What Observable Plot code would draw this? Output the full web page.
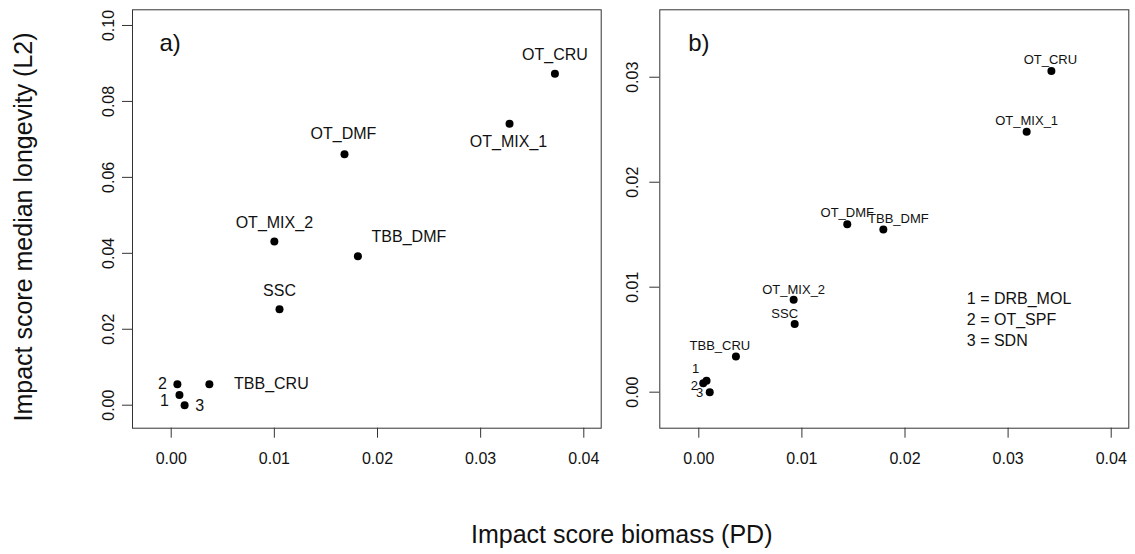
<!DOCTYPE html>
<html><head><meta charset="utf-8">
<script src="https://cdn.jsdelivr.net/npm/d3@7"></script>
<script src="https://cdn.jsdelivr.net/npm/@observablehq/plot@0.6"></script>
<style>
body{margin:0;background:#fff;}
#fig{position:relative;width:1135px;height:554px;font-family:"Liberation Sans",Arial,sans-serif;color:#111;background:#fff;overflow:hidden;}
#xlab{position:absolute;left:471px;top:522px;font-size:25px;line-height:25px;white-space:nowrap;color:#111;}
</style></head><body><div id="fig"><div id="xlab"></div></div>
<script>
// ---- data ----
const namesA = ["OT_CRU","OT_MIX_1","OT_DMF","OT_MIX_2","TBB_DMF","SSC","TBB_CRU","2","1","3"];
const pdA    = [0.0372,0.0328,0.0168,0.0100,0.0181,0.0105,0.0037,0.0006,0.0008,0.0013];
const l2A    = [0.0873,0.0741,0.0661,0.0431,0.0392,0.0253,0.0055,0.0055,0.0027,0.0000];

const namesB = ["OT_CRU","OT_MIX_1","OT_DMF","TBB_DMF","OT_MIX_2","SSC","TBB_CRU","1","2","3"];
const pdB    = [0.0342,0.0318,0.0144,0.0179,0.0092,0.0093,0.0036,0.00075,0.00043,0.00106];
const l2B    = [0.0306,0.0248,0.0160,0.0155,0.0088,0.0065,0.0034,0.0011,0.00084,0.0000];

const xTicks  = [0,0.01,0.02,0.03,0.04];
const yTicksA = [0,0.02,0.04,0.06,0.08,0.10];
const yTicksB = [0,0.01,0.02,0.03];
const legendLines = ["1 = DRB_MOL","2 = OT_SPF","3 = SDN"];
const panelLetters = ["a)","b)"];
const xTitle = "Impact score biomass (PD)";
const yTitle = "Impact score median longevity (L2)";

// ---- layout (label offsets in px relative to each point) ----
const offA = {OT_CRU:[0,-19],OT_MIX_1:[-1,18],OT_DMF:[-1,-20],OT_MIX_2:[0,-19],TBB_DMF:[51,-19],
  SSC:[0,-18],TBB_CRU:[62,0],"2":[-15,0],"1":[-15,6],"3":[15,1]};
const offB = {OT_CRU:[-1,-11],OT_MIX_1:[0,-11],OT_DMF:[0,-11],TBB_DMF:[15,-11],OT_MIX_2:[0,-10],
  SSC:[-10,-10],TBB_CRU:[-16,-11],"1":[-11,-12],"2":[-9,2],"3":[-10,1]};

const ink = "#111";
const boxInk = "#333";
const font = "Liberation Sans, Arial, sans-serif";

function panel(names, xs, ys, off, opts) {
  const data = names.map((n,i)=>({name:n, x:xs[i], y:ys[i]}));
  const labelMarks = data.map(d => Plot.text([d], {x:"x", y:"y", text:"name",
    dx: off[d.name][0], dy: off[d.name][1], fontSize: opts.labelSize, fill: ink}));
  const extra = opts.extra || [];
  return Plot.plot({
    width: opts.width, height: 554,
    marginLeft: opts.ml, marginRight: opts.mr, marginTop: 9.3, marginBottom: 126.3,
    x: {domain: opts.xd},
    y: {domain: opts.yd},
    style: {fontFamily: font, fontSize: "16px", color: ink, background: "transparent", overflow: "visible",
      position: "absolute", top: "0px", left: opts.left + "px"},
    marks: [
      Plot.frame({stroke: boxInk, strokeWidth: 1}),
      Plot.axisX({ticks: xTicks, tickFormat: d3.format(".2f"), tickSize: 10, tickPadding: 14,
        label: null, stroke: boxInk, fontSize: 16}),
      Plot.axisY({ticks: opts.yTicks, tickFormat: d3.format(".2f"), tickSize: 10, tickPadding: opts.yPad,
        tickRotate: -90, label: null, stroke: boxInk, fontSize: 16}),
      Plot.dot(data, {x:"x", y:"y", r: 4, fill: "#000", stroke: "none"}),
      ...labelMarks,
      Plot.text([opts.letter], {frameAnchor: "top-left", dx: opts.letterDx, dy: 24, fontSize: 24,
        textAnchor: "start", fill: ink}),
      ...extra
    ]
  });
}

const fig = document.getElementById("fig");

const svgA = panel(namesA, pdA, l2A, offA, {
  width: 615, left: 0, ml: 132, mr: 14.3,
  xd: [-0.003752, 0.041687], yd: [-0.006057, 0.10413], yTicks: yTicksA, yPad: 9,
  labelSize: 16, letter: panelLetters[0], letterDx: 27,
  extra: [Plot.text([yTitle], {frameAnchor: "left", rotate: -90, dx: -108.5, dy: 8, fontSize: 25,
    textAnchor: "middle", fill: ink})]
});

const svgB = panel(namesB, pdB, l2B, offB, {
  width: 520, left: 615, ml: 44.3, mr: 6.7,
  xd: [-0.003783, 0.041707], yd: [-0.003431, 0.036424], yTicks: yTicksB, yPad: 12,
  labelSize: 13, letter: panelLetters[1], letterDx: 28.4,
  extra: legendLines.map((t,i) => Plot.text([t], {frameAnchor: "top-left", dx: 307, dy: 282.5 + i*21,
    fontSize: 16, textAnchor: "start", fill: ink}))
});

fig.appendChild(svgA);
fig.appendChild(svgB);
document.getElementById("xlab").textContent = xTitle;
</script>
</body></html>
